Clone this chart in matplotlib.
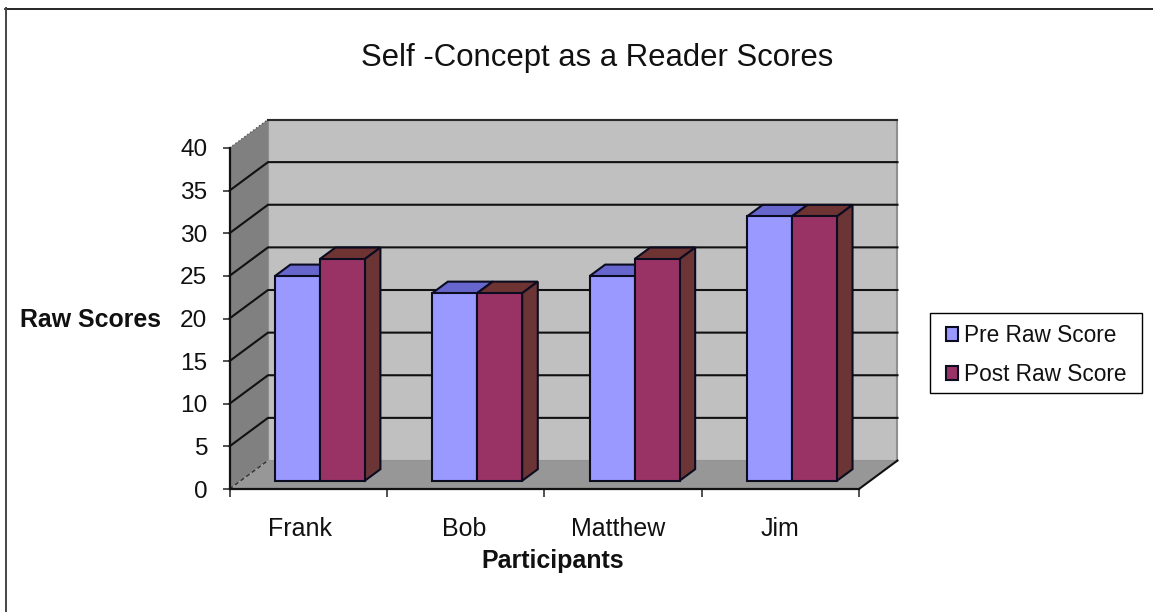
import matplotlib
matplotlib.use('Agg')
import matplotlib.pyplot as plt
from matplotlib.patches import Polygon, Patch, Rectangle
from matplotlib.lines import Line2D

participants = ['Frank', 'Bob', 'Matthew', 'Jim']
pre_scores = [24, 22, 24, 31]
post_scores = [26, 22, 26, 31]
y_ticks = [0, 5, 10, 15, 20, 25, 30, 35, 40]

plt.rcParams['font.family'] = ['Liberation Sans', 'DejaVu Sans']

W, H = 1153, 612
fig = plt.figure(figsize=(W / 100, H / 100), dpi=100)
fig.patch.set_facecolor('white')

# axes sit on the front plane of the fake 3d box
ax = fig.add_axes([229.5 / W, (H - 489) / H, 629.5 / W, 341 / H])
ax.set_xlim(0, 4)
ax.set_ylim(0, 40)
ax.patch.set_visible(False)

# oblique offset for full depth, in data units
depth_x = 38.5 / 157.4
depth_y = 28.5 / 8.525


def proj(x, y, d=0.0):
    return (x + d * depth_x, y + d * depth_y)


def face(points, color, lw=1.5, ec='#0c0c20', z=2):
    ax.add_patch(Polygon(points, closed=True, facecolor=color, edgecolor=ec,
                         linewidth=lw, joinstyle='miter', clip_on=False, zorder=z))


def seg(p, q, **kw):
    ax.plot([p[0], q[0]], [p[1], q[1]], clip_on=False, **kw)


# walls and floor
face([proj(0, 0, 1), proj(4, 0, 1), proj(4, 40, 1), proj(0, 40, 1)], '#c0c0c0', lw=1.5, ec='#8f8f8f', z=1)
face([proj(0, 0), proj(0, 0, 1), proj(0, 40, 1), proj(0, 40)], '#808080', lw=0, ec='none', z=1)
face([proj(0, 0), proj(4, 0), proj(4, 0, 1), proj(0, 0, 1)], '#979797', lw=0, ec='none', z=1)

# gridlines run along the side wall and across the back wall
for v in y_ticks[1:-1]:
    pts = [proj(0, v), proj(0, v, 1), proj(4, v, 1)]
    ax.plot([p[0] for p in pts], [p[1] for p in pts], color='#111111', lw=1.5,
            clip_on=False, zorder=1.5)
seg(proj(0, 40, 1), proj(4, 40, 1), color='#2a2a2a', lw=1.5, zorder=1.6)
seg(proj(0, 40), proj(0, 40, 1), color='#555555', lw=1.0, ls=':', zorder=1.5)
seg(proj(0, 0), proj(0, 0, 1), color='#333333', lw=1.0, ls=(0, (3, 2)), zorder=1.5)
seg(proj(4, 0), proj(4, 0, 1), color='#111111', lw=1.5, zorder=1.5)


def bar3d(x0, x1, value, front, top, side):
    d0, d1 = 0.29, 0.695
    face([proj(x0, value, d0), proj(x0, value, d1), proj(x1, value, d1), proj(x1, value, d0)], top)
    face([proj(x1, 0, d0), proj(x1, 0, d1), proj(x1, value, d1), proj(x1, value, d0)], side)
    face([proj(x0, 0, d0), proj(x1, 0, d0), proj(x1, value, d0), proj(x0, value, d0)], front)


bar_w = 45 / 157.4
for i in range(len(participants)):
    c = i + 0.503
    bar3d(c - bar_w, c, pre_scores[i], '#9999ff', '#6666cc', '#66668f')
    bar3d(c, c + bar_w, post_scores[i], '#993366', '#6e3333', '#6b3535')

for s in ('top', 'right'):
    ax.spines[s].set_visible(False)
for s in ('left', 'bottom'):
    ax.spines[s].set_linewidth(1.6)
    ax.spines[s].set_color('#111111')
    ax.spines[s].set_zorder(5)

ax.set_yticks(y_ticks)
ax.set_xticks(range(5))
ax.set_xticklabels([])
ax.set_xticks([0.45, 1.49, 2.47, 3.5], labels=participants, minor=True)
ax.tick_params(axis='x', which='major', length=6, width=1.1, color='#222222')
ax.tick_params(axis='x', which='minor', length=0, pad=20, labelsize=18, labelcolor='#111111')
ax.tick_params(axis='y', length=5, width=1.1, color='#222222', pad=11, labelsize=17.6, labelcolor='#111111')

fig.text(597 / W, 1 - 58 / H, 'Self -Concept as a Reader Scores', ha='center', va='center',
         fontsize=22.4, color='#111111')
fig.text(91 / W, 1 - 320 / H, 'Raw Scores', ha='center', va='center', fontsize=17.9, fontweight='bold',
         color='#111111')
fig.text(553 / W, 1 - 561 / H, 'Participants', ha='center', va='center', fontsize=18, fontweight='bold',
         color='#111111')

# legend box drawn separately so its size doesn't depend on the entries
fig.add_artist(Rectangle((930 / W, 1 - 393 / H), 212 / W, 80 / H, transform=fig.transFigure,
                         facecolor='white', edgecolor='black', linewidth=1.0))
handles = [Patch(facecolor='#9999ff', edgecolor='#0c0c20', linewidth=1.5, label='Pre Raw Score'),
           Patch(facecolor='#993366', edgecolor='#0c0c20', linewidth=1.5, label='Post Raw Score')]
leg = fig.legend(handles=handles, loc='upper left', bbox_to_anchor=(946 / W, 1 - 324 / H),
                 fontsize=16.3, frameon=False,
                 handlelength=0.53, handleheight=0.53, handletextpad=0.27, labelspacing=0.7,
                 borderpad=0, borderaxespad=0, labelcolor='#111111')

# the chart frame only shows on its top and left edges
fig.add_artist(Line2D([5 / W, 1], [1 - 8.5 / H] * 2, transform=fig.transFigure, color='black', lw=1.2))
fig.add_artist(Line2D([6 / W] * 2, [1 - 8 / H, 0], transform=fig.transFigure, color='#444444', lw=1.4))

fig.savefig('out.png', dpi=100)
